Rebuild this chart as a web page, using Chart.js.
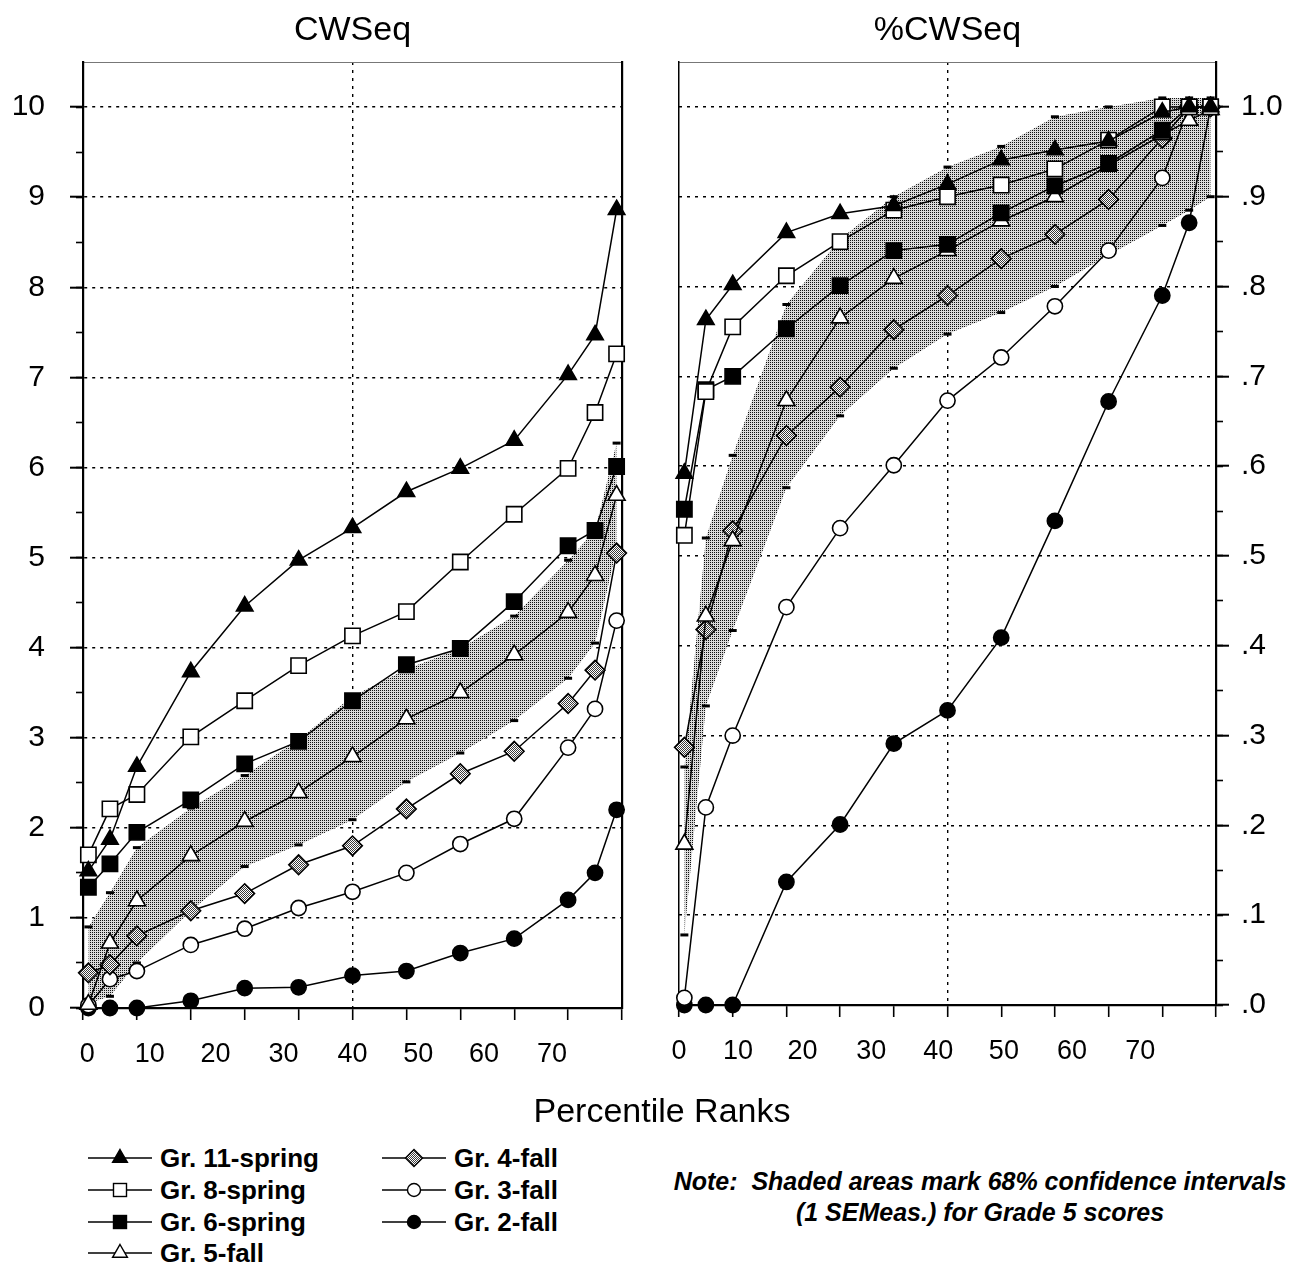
<!DOCTYPE html>
<html>
<head>
<meta charset="utf-8">
<title>CWSeq by percentile rank</title>
<script src="https://cdn.jsdelivr.net/npm/chart.js@4.4.1/dist/chart.umd.min.js"></script>
<style>
  body { margin: 0; background: #fff; }
  #page { position: relative; width: 1297px; height: 1266px; background: #fff; overflow: hidden;
          font-family: "Liberation Sans", Arial, Helvetica, sans-serif; color: #000; }
  #cwsChart { position: absolute; left: 0; top: 0; }
  #pctChart { position: absolute; left: 650px; top: 0; }
  #xTitle { position: absolute; left: 0; top: 1093px; width: 1324px; text-align: center; font-size: 34px; line-height: 34px; }
  .leg { position: absolute; height: 26px; line-height: 26px; font-size: 26px; font-weight: bold; white-space: nowrap; }
  .leg svg { vertical-align: top; margin-right: 8px; }
  #note { position: absolute; left: 660px; top: 1166px; width: 640px; text-align: center;
          font-size: 25px; line-height: 31px; font-style: italic; font-weight: bold; }
</style>
</head>
<body>
<div id="page">
  <canvas id="cwsChart" width="660" height="1100"></canvas>
  <canvas id="pctChart" width="647" height="1100"></canvas>
  <div id="xTitle">Percentile Ranks</div>
  <div id="legend"></div>
  <div id="note">Note:&nbsp; Shaded areas mark 68% confidence intervals<br>(1 SEMeas.) for Grade 5 scores</div>
</div>
<script>
// percentile ranks where every group was scored
const pctRanks = [1, 5, 10, 20, 30, 40, 50, 60, 70, 80, 90, 95, 99];

const seriesNames = ["Gr. 11-spring", "Gr. 8-spring", "Gr. 6-spring", "Gr. 5-fall", "Gr. 4-fall", "Gr. 3-fall", "Gr. 2-fall"];

// CWSeq (left panel)
const cwsGr11Spring = [1.52, 1.87, 2.68, 3.73, 4.46, 4.97, 5.33, 5.73, 5.99, 6.30, 7.03, 7.47, 8.86];
const cwsGr8Spring  = [1.70, 2.21, 2.37, 3.01, 3.41, 3.80, 4.13, 4.40, 4.95, 5.48, 5.99, 6.61, 7.26];
const cwsGr6Spring  = [1.34, 1.60, 1.95, 2.31, 2.71, 2.96, 3.41, 3.81, 3.99, 4.51, 5.13, 5.30, 6.01];
const cwsGr5Fall    = [0.04, 0.72, 1.19, 1.69, 2.07, 2.39, 2.79, 3.21, 3.50, 3.92, 4.39, 4.80, 5.69];
const cwsGr4Fall    = [0.39, 0.48, 0.80, 1.08, 1.27, 1.59, 1.80, 2.21, 2.60, 2.85, 3.38, 3.75, 5.05];
const cwsGr3Fall    = [0.03, 0.32, 0.41, 0.70, 0.88, 1.11, 1.29, 1.50, 1.82, 2.10, 2.89, 3.32, 4.30];
const cwsGr2Fall    = [0, 0, 0, 0.08, 0.22, 0.23, 0.36, 0.41, 0.61, 0.77, 1.20, 1.50, 2.20];
// Grade 5 confidence band (1 SEMeas.)
const cwsGr5Low  = [0.05, 0.13, 0.50, 1.08, 1.57, 1.81, 2.09, 2.51, 2.83, 3.19, 3.66, 4.05, 5.10];
const cwsGr5High = [0.90, 1.28, 1.78, 2.22, 2.58, 2.98, 3.46, 3.76, 3.99, 4.35, 4.97, 5.30, 6.27];

// %CWSeq (right panel)
const pctGr11Spring = [0.592, 0.763, 0.802, 0.860, 0.881, 0.890, 0.914, 0.941, 0.952, 0.962, 0.994, 1.0, 1.0];
const pctGr8Spring  = [0.523, 0.683, 0.755, 0.812, 0.850, 0.885, 0.900, 0.913, 0.931, 0.963, 1.0, 1.0, 1.0];
const pctGr6Spring  = [0.552, 0.685, 0.700, 0.753, 0.801, 0.840, 0.847, 0.882, 0.912, 0.937, 0.974, 1.0, 1.0];
const pctGr5Fall    = [0.179, 0.433, 0.517, 0.673, 0.765, 0.809, 0.840, 0.873, 0.900, 0.935, 0.969, 0.985, 0.997];
const pctGr4Fall    = [0.287, 0.418, 0.528, 0.634, 0.688, 0.752, 0.790, 0.831, 0.858, 0.897, 0.965, 1.0, 1.0];
const pctGr3Fall    = [0.008, 0.220, 0.300, 0.443, 0.531, 0.601, 0.673, 0.721, 0.778, 0.840, 0.921, 1.0, 1.0];
const pctGr2Fall    = [0, 0, 0, 0.137, 0.201, 0.291, 0.328, 0.409, 0.539, 0.672, 0.790, 0.871, 1.0];
const pctGr5Low  = [0.078, 0.333, 0.417, 0.576, 0.656, 0.709, 0.747, 0.771, 0.800, 0.835, 0.868, 0.885, 0.900];
const pctGr5High = [0.265, 0.520, 0.612, 0.780, 0.853, 0.900, 0.933, 0.956, 0.989, 1.000, 1.010, 1.010, 1.010];

// x tick labels as printed (they sit off the tick marks in the original)
const xTickText = ["0", "10", "20", "30", "40", "50", "60", "70"];
const xTickPosLeft  = [0.8, 12.4, 24.6, 37.2, 50.0, 62.2, 74.4, 87.0];
const xTickPosRight = [0, 11.0, 23.0, 35.8, 48.3, 60.5, 73.2, 85.9];

Chart.defaults.font.family = "'Liberation Sans', Arial, Helvetica, sans-serif";
Chart.defaults.color = "#000";

// dotted screen like the printed shading
function makeDots(dark, light) {
  var c = document.createElement("canvas");
  c.width = 2;
  c.height = 2;
  var g = c.getContext("2d");
  g.fillStyle = light;
  g.fillRect(0, 0, 2, 2);
  g.fillStyle = dark;
  g.fillRect(0, 0, 1, 1);
  return g.createPattern(c, "repeat");
}
function makeChecker(dark, light) {
  var c = document.createElement("canvas");
  c.width = 2;
  c.height = 2;
  var g = c.getContext("2d");
  g.fillStyle = light;
  g.fillRect(0, 0, 2, 2);
  g.fillStyle = dark;
  g.fillRect(0, 0, 1, 1);
  g.fillRect(1, 1, 1, 1);
  return g.createPattern(c, "repeat");
}
var bandFill = makeDots("#101010", "#dadada");
var diamondFill = makeChecker("#3a3a3a", "#ffffff");

var pointStyles = ["triangle", "rect", "rect", "triangle", "rectRot", "circle", "circle"];
var pointSizes = [9.5, 10.8, 10.8, 9.8, 9.8, 7.6, 7.6];
var pointFills = ["#000", "#fff", "#000", "#fff", diamondFill, "#fff", "#000"];

function toPoints(values) {
  return pctRanks.map(function (x, j) {
    return { x: x, y: values[j] };
  });
}

function isStep(v, step) {
  return Math.abs(v / step - Math.round(v / step)) < 1e-6;
}

function buildPanel(canvasId, cfg) {
  var ctx = document.getElementById(canvasId).getContext("2d");

  var datasets = seriesNames.map(function (name, i) {
    return {
      label: name,
      data: toPoints(cfg.series[i]),
      borderColor: "#000",
      borderWidth: 1.5,
      pointStyle: pointStyles[i],
      pointRadius: pointSizes[i],
      pointBackgroundColor: pointFills[i],
      pointBorderColor: "#000",
      pointBorderWidth: 1.6,
      fill: false,
      tension: 0,
      clip: false
    };
  });

  // band edges: only the small dashes show, the fill goes between them
  datasets.push({
    label: "Gr. 5 low",
    data: toPoints(cfg.low),
    borderColor: "rgba(0,0,0,0)",
    borderWidth: 0,
    pointStyle: "line",
    pointRadius: 4,
    pointBorderColor: "#000",
    pointBorderWidth: 3,
    fill: false,
    tension: 0,
    clip: false
  });
  datasets.push({
    label: "Gr. 5 high",
    data: toPoints(cfg.high),
    borderColor: "rgba(0,0,0,0)",
    borderWidth: 0,
    backgroundColor: bandFill,
    pointStyle: "line",
    pointRadius: 4,
    pointBorderColor: "#000",
    pointBorderWidth: 3,
    fill: "-1",
    tension: 0,
    clip: false
  });

  var otherSide = cfg.yPosition === "left" ? "right" : "left";

  return new Chart(ctx, {
    type: "line",
    data: { datasets: datasets },
    options: {
      responsive: false,
      animation: false,
      events: [],
      layout: { padding: { left: cfg.padLeft, right: cfg.padRight, top: 0, bottom: 0 } },
      plugins: {
        legend: { display: false },
        tooltip: { enabled: false },
        title: {
          display: true,
          text: cfg.title,
          fullSize: false,
          font: { size: 34, weight: "normal" },
          color: "#000",
          padding: { top: 10, bottom: 11.2 }
        }
      },
      scales: {
        x: {
          type: "linear",
          min: 0,
          max: 100,
          position: "bottom",
          weight: 0,
          ticks: { stepSize: 10, callback: function () { return ""; } },
          grid: {
            // only the 50th percentile gets a vertical guide
            color: function (c) { return c.tick && c.tick.value === 50 ? "#000" : "rgba(0,0,0,0)"; },
            lineWidth: 1.4,
            tickColor: "#000",
            tickLength: 12,
            tickWidth: 1.6
          },
          border: { display: true, color: "#000", width: 2.2, dash: [3, 5] },
          afterFit: function (s) { s.height = 14; }
        },
        xLab: {
          type: "linear",
          min: 0,
          max: 100,
          position: "bottom",
          weight: 1,
          afterBuildTicks: function (s) {
            s.ticks = cfg.labelPos.map(function (v) { return { value: v }; });
          },
          ticks: {
            autoSkip: false,
            maxRotation: 0,
            padding: 16,
            font: { size: 27 },
            color: "#000",
            callback: function (v, i) { return xTickText[i]; }
          },
          grid: { display: false, drawTicks: false },
          border: { display: false },
          afterFit: function (s) { s.height = cfg.bottomRest; }
        },
        xTop: {
          type: "linear",
          min: 0,
          max: 100,
          position: "top",
          ticks: { display: false },
          grid: { display: false, drawTicks: false },
          border: { display: true, color: "#777", width: 1 },
          afterFit: function (s) { s.height = 0; }
        },
        // labelled axis with the long ticks and dotted grid lines
        y: {
          type: "linear",
          min: 0,
          max: cfg.yMax,
          position: cfg.yPosition,
          weight: 1,
          ticks: {
            stepSize: cfg.yStep,
            padding: cfg.yLabelPad,
            font: { size: 30 },
            color: "#000",
            callback: function (v) { return v <= cfg.yTop + 1e-9 && isStep(v, cfg.yStep) ? cfg.yFormat(v) : ""; }
          },
          grid: {
            color: function (c) {
              var v = c.tick ? c.tick.value : 0;
              return v > 0 && v <= cfg.yTop + 1e-9 ? "#000" : "rgba(0,0,0,0)";
            },
            lineWidth: 1.4,
            tickColor: function (c) {
              var v = c.tick ? c.tick.value : 0;
              return v > cfg.yTop + 1e-9 ? "rgba(0,0,0,0)" : "#000";
            },
            tickLength: 13,
            tickWidth: 2
          },
          border: { display: true, color: "#000", width: cfg.yBorder, dash: [3, 5] },
          afterFit: function (s) { s.width = cfg.yWidth; }
        },
        // short half-step ticks, sits right on the chart edge
        yMinor: {
          type: "linear",
          min: 0,
          max: cfg.yMax,
          position: cfg.yPosition,
          weight: 0,
          ticks: { stepSize: cfg.yStep / 2, callback: function () { return ""; } },
          grid: {
            drawOnChartArea: false,
            tickColor: function (c) {
              var v = c.tick ? c.tick.value : 0;
              return v > cfg.yTop + 1e-9 ? "rgba(0,0,0,0)" : "#000";
            },
            tickLength: 7,
            tickWidth: 1.6
          },
          border: { display: false },
          afterFit: function (s) { s.width = 0; }
        },
        yEdge: {
          type: "linear",
          min: 0,
          max: cfg.yMax,
          position: otherSide,
          ticks: { display: false },
          grid: { display: false, drawTicks: false },
          border: { display: true, color: "#000", width: cfg.edgeBorder },
          afterFit: function (s) { s.width = 0; }
        }
      }
    }
  });
}

buildPanel("cwsChart", {
  title: "CWSeq",
  series: [cwsGr11Spring, cwsGr8Spring, cwsGr6Spring, cwsGr5Fall, cwsGr4Fall, cwsGr3Fall, cwsGr2Fall],
  low: cwsGr5Low,
  high: cwsGr5High,
  labelPos: xTickPosLeft,
  yMax: 10.5,
  yTop: 10,
  yStep: 1,
  yPosition: "left",
  yWidth: 83,
  yLabelPad: 25,
  yBorder: 2.2,
  edgeBorder: 2.2,
  yFormat: function (v) { return String(v); },
  padLeft: 0,
  padRight: 38,
  bottomRest: 78
});

buildPanel("pctChart", {
  title: "%CWSeq",
  series: [pctGr11Spring, pctGr8Spring, pctGr6Spring, pctGr5Fall, pctGr4Fall, pctGr3Fall, pctGr2Fall],
  low: pctGr5Low,
  high: pctGr5High,
  labelPos: xTickPosRight,
  yMax: 1.05,
  yTop: 1.0,
  yStep: 0.1,
  yPosition: "right",
  yWidth: 81,
  yLabelPad: 12,
  yBorder: 2.2,
  edgeBorder: 1.5,
  yFormat: function (v) { return v >= 0.999 ? "1.0" : "." + Math.round(v * 10); },
  padLeft: 29,
  padRight: 0,
  bottomRest: 81
});

// legend, built from the series names and marker styles
var legendSlots = [
  { left: 88, top: 1145 }, { left: 88, top: 1177 }, { left: 88, top: 1209 }, { left: 88, top: 1240 },
  { left: 382, top: 1145 }, { left: 382, top: 1177 }, { left: 382, top: 1209 }
];

function markerSvg(i) {
  var s = '<svg width="64" height="26" viewBox="0 0 64 26">' +
    '<defs><pattern id="chk' + i + '" width="2" height="2" patternUnits="userSpaceOnUse">' +
    '<rect width="2" height="2" fill="#fff"/><rect width="1" height="1" fill="#3a3a3a"/>' +
    '<rect x="1" y="1" width="1" height="1" fill="#3a3a3a"/></pattern></defs>' +
    '<line x1="0" y1="13" x2="64" y2="13" stroke="#000" stroke-width="1.4"/>';
  var fill = pointFills[i] === diamondFill ? "url(#chk" + i + ")" : pointFills[i];
  var st = ' fill="' + fill + '" stroke="#000" stroke-width="1.4"';
  if (pointStyles[i] === "triangle") {
    s += '<polygon points="32,4.5 39.4,17.3 24.6,17.3"' + st + '/>';
  } else if (pointStyles[i] === "rect") {
    s += '<rect x="25.5" y="6.5" width="13" height="13"' + st + '/>';
  } else if (pointStyles[i] === "rectRot") {
    s += '<polygon points="32,4.5 40.5,13 32,21.5 23.5,13"' + st + '/>';
  } else {
    s += '<circle cx="32" cy="13" r="6.5"' + st + '/>';
  }
  return s + "</svg>";
}

var legendBox = document.getElementById("legend");
seriesNames.forEach(function (name, i) {
  var item = document.createElement("div");
  item.className = "leg";
  item.style.left = legendSlots[i].left + "px";
  item.style.top = legendSlots[i].top + "px";
  item.innerHTML = markerSvg(i) + name;
  legendBox.appendChild(item);
});
</script>
</body>
</html>
